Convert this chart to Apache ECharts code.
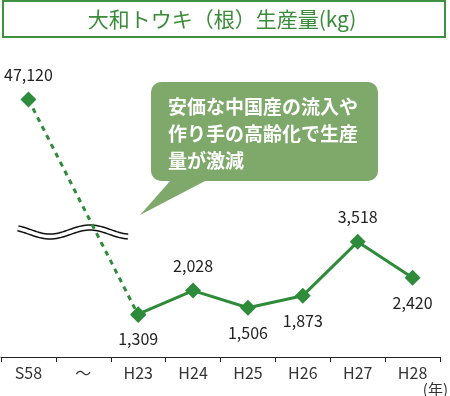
<!DOCTYPE html>
<html><head><meta charset="utf-8">
<script src="https://cdn.jsdelivr.net/npm/echarts@6/dist/echarts.min.js"></script>
<style>html,body{margin:0;padding:0;background:#fff}#c{width:450px;height:396px}</style>
</head><body><div id="c"></div>
<script>
const categories = ['S58', '～', 'H23', 'H24', 'H25', 'H26', 'H27', 'H28'];
const pastValues = [47120, null, 1309, null, null, null, null, null];
const recentValues = [null, null, 1309, 2028, 1506, 1873, 3518, 2420];
const labelPositions = ['top', null, 'bottom', 'top', 'bottom', 'bottom', 'top', 'bottom'];
const titleText = '大和トウキ（根）生産量(kg)';
const noteText = '安価な中国産の流入や\n作り手の高齢化で生産\n量が激減';
const unitText = '(年)';
// broken axis: lower scale for recent years, compressed scale for the S58 -> H23 drop
const lowerAxisRange = [0, 8738];
const compressedAxisRange = [-7620, 53179];

const FONT = '"Noto Sans CJK JP", "Noto Sans", sans-serif';
const GREEN = '#2e8b3a';
const fmt = v => Number(v).toLocaleString('en-US');

function wavePoints() {
  const pts = [];
  for (let x = 18; x <= 128; x += 2) {
    pts.push([x, 232 + 4.5 * Math.sin((x - 30) / 80 * 2 * Math.PI)]);
  }
  return pts;
}

const hiddenY = (r) => ({
  type: 'value', min: r[0], max: r[1],
  axisLine: { show: false }, axisTick: { show: false },
  axisLabel: { show: false }, splitLine: { show: false }
});

const labelStyle = { distance: 9, color: '#222', fontSize: 16, fontFamily: FONT, formatter: p => fmt(p.value) };

const chart = echarts.init(document.getElementById('c'));
chart.setOption({
  animation: false,
  grid: { left: 1, right: 10, top: 71, bottom: 39, outerBoundsMode: 'none' },
  xAxis: {
    type: 'category',
    data: categories,
    boundaryGap: true,
    axisLine: { lineStyle: { color: '#222', width: 1 } },
    axisTick: { show: true, length: 5, lineStyle: { color: '#222' } },
    axisLabel: { color: '#333', fontSize: 16, fontFamily: FONT, margin: 8, interval: 0 }
  },
  yAxis: [hiddenY(lowerAxisRange), hiddenY(compressedAxisRange)],
  series: [
    {
      type: 'line',
      yAxisIndex: 1,
      data: pastValues.map((v, i) => v == null ? '-' : {
        value: v,
        label: { show: i === 0, position: labelPositions[i] }
      }),
      connectNulls: true,
      symbol: 'diamond',
      symbolSize: 16,
      lineStyle: { color: GREEN, width: 3, type: [5, 5] },
      itemStyle: { color: GREEN },
      label: labelStyle,
      z: 2
    },
    {
      type: 'line',
      yAxisIndex: 0,
      data: recentValues.map((v, i) => v == null ? '-' : {
        value: v,
        label: { show: true, position: labelPositions[i] }
      }),
      symbol: 'diamond',
      symbolSize: 16,
      lineStyle: { color: GREEN, width: 3 },
      itemStyle: { color: GREEN },
      label: labelStyle,
      z: 3
    }
  ],
  graphic: [
    { type: 'rect', shape: { x: 3, y: 1, width: 442, height: 36 }, style: { fill: '#fff', stroke: '#3d9140', lineWidth: 2 } },
    { type: 'text', x: 222, y: 19, style: { text: titleText, fill: '#3a8c3a', font: '21px ' + FONT, textAlign: 'center', textVerticalAlign: 'middle' } },
    { type: 'rect', shape: { x: 151, y: 82, width: 227, height: 99, r: 10 }, style: { fill: '#7fa86b' }, z: 10 },
    { type: 'polygon', shape: { points: [[171, 180], [207, 180], [140, 215]] }, style: { fill: '#7fa86b' }, z: 10 },
    { type: 'text', x: 168, y: 93, style: { text: noteText, fill: '#fff', font: 'bold 19px ' + FONT, lineHeight: 27, textAlign: 'left', textVerticalAlign: 'top' }, z: 11 },
    { type: 'polyline', shape: { points: wavePoints() }, style: { fill: null, stroke: '#111', lineWidth: 6.5 }, z: 1 },
    { type: 'polyline', shape: { points: wavePoints() }, style: { fill: null, stroke: '#fff', lineWidth: 3.5 }, z: 1 },
    { type: 'text', x: 448, y: 389, style: { text: unitText, fill: '#333', font: '15px ' + FONT, textAlign: 'right', textVerticalAlign: 'middle' } }
  ]
});
</script>
</body></html>
